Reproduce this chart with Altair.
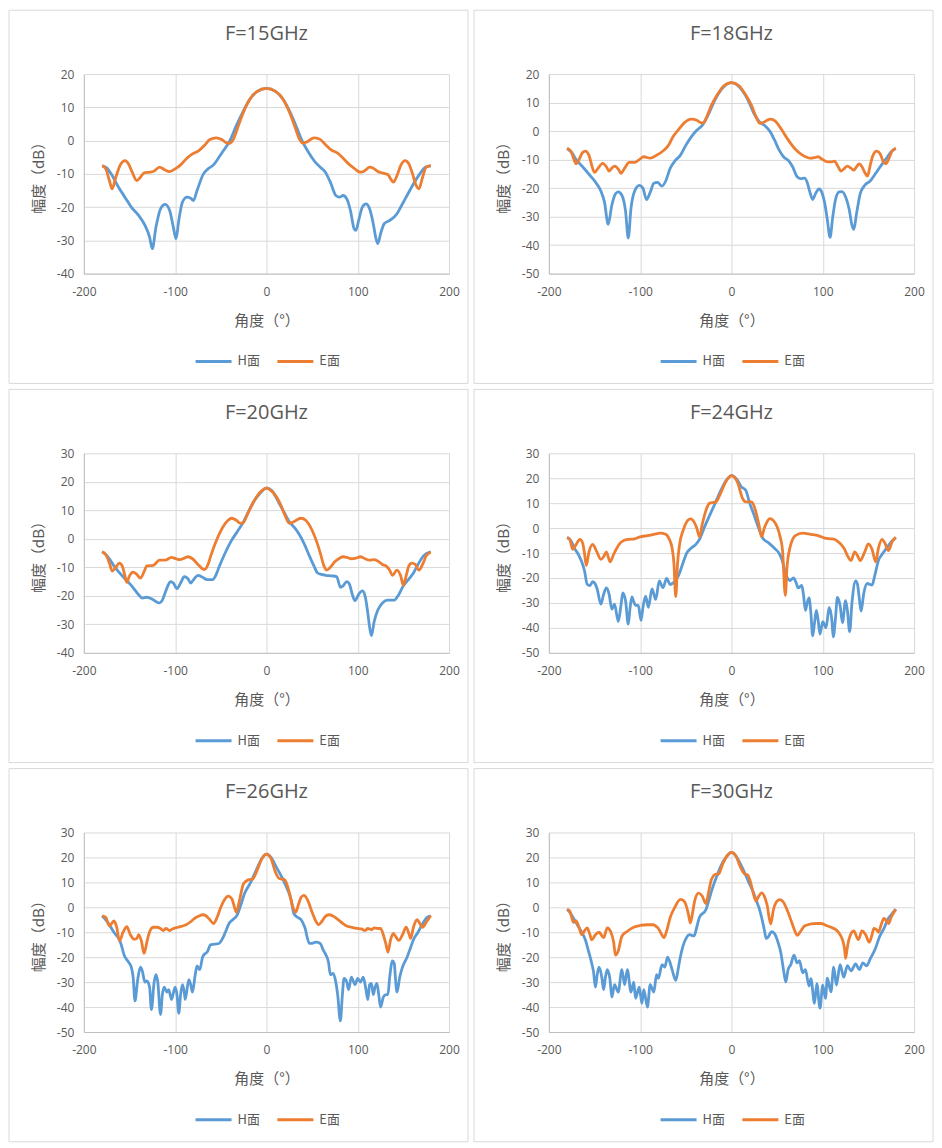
import altair as alt
import pandas as pd

BLUE = "#5b9bd5"
ORANGE = "#ed7d31"
GRID = "#d9d9d9"
AXIS_LINE = "#bfbfbf"
TEXT = "#595959"
FONT = "Noto Sans CJK SC"
LATIN = "Open Sans"

SERIES = ["H面", "E面"]
X_TICKS = [-200, -100, 0, 100, 200]

H15 = [(-180, -7.6), (-175, -8.2), (-169, -10.5), (-162, -14), (-155, -17), (-148, -20), (-140, -22.5),
       (-133, -25.5), (-128, -29), (-125, -32.5), (-121, -26), (-116, -20.5), (-111, -19.2), (-106, -21),
       (-102, -26), (-99, -29.5), (-96, -24), (-92, -18.5), (-87, -17), (-83, -17.3), (-80, -18), (-76, -15),
       (-69, -10), (-64, -8.5), (-58, -7.3), (-52, -5), (-47, -3), (-40, 0), (-33, 4.5), (-26, 8.5),
       (-18, 12.5), (-10, 14.8), (0, 15.7), (10, 14.8), (18, 12.5), (26, 8.5), (33, 4), (39, 0), (46, -3.5),
       (53, -6.3), (59, -8), (64, -9.3), (70, -12.5), (76, -16.5), (80, -17), (84, -16.5), (88, -17.5),
       (92, -21), (96, -26.5), (98, -27), (101, -24), (105, -20), (109, -19), (113, -20.5), (117, -25),
       (120, -29.5), (122, -31), (125, -28), (129, -25), (135, -24), (143, -22), (148, -19.5), (153, -17),
       (160, -13.5), (168, -10), (174, -8), (180, -7.6)]
E15 = [(-180, -7.5), (-176, -8.5), (-172, -12), (-169, -14.5), (-165, -11), (-160, -7.3), (-155, -6),
       (-151, -7), (-147, -9.5), (-142, -12), (-138, -11), (-134, -9.7), (-128, -9.5), (-124, -9.3),
       (-117, -8), (-112, -8.7), (-106, -9.3), (-100, -8.5), (-94, -7.3), (-88, -5.5), (-81, -4), (-74, -3),
       (-68, -1.5), (-62, 0.3), (-55, 0.8), (-49, 0.3), (-44, -0.6), (-40, -0.8), (-36, 0.5), (-32, 3.5),
       (-26, 8), (-18, 12.5), (-10, 14.8), (0, 15.7), (10, 14.8), (18, 12.5), (26, 8), (32, 3.5), (36, 0.5),
       (40, -0.8), (45, -0.3), (52, 0.8), (58, 0.5), (64, -1), (71, -2.8), (78, -3.8), (84, -5.3), (90, -7),
       (96, -8.3), (100, -9.2), (104, -9.5), (108, -9), (113, -8), (117, -8.3), (122, -9.3), (128, -9.8),
       (133, -10.2), (136, -11.5), (139, -12.5), (143, -10.5), (147, -7.5), (152, -6), (156, -7), (160, -10),
       (164, -13.5), (167, -14.5), (171, -11), (175, -8), (180, -7.5)]

H18 = [(-180, -6.1), (-175, -7.5), (-170, -10), (-163, -12.5), (-155, -15.5), (-148, -18.3), (-143, -21),
       (-139, -25), (-135, -32.7), (-131, -26), (-127, -22), (-124, -21.3), (-120, -22.5), (-116, -28),
       (-113, -37.5), (-110, -27), (-106, -21), (-101, -19), (-97, -20), (-93, -24), (-89, -21.5),
       (-85, -18.3), (-81, -18), (-76, -19.3), (-72, -17.5), (-67, -13), (-62, -10.5), (-56, -8.5), (-50, -5),
       (-44, -2), (-38, 0.3), (-32, 2), (-25, 6), (-18, 11), (-10, 15), (0, 17), (10, 15), (18, 11), (25, 6),
       (30, 3.5), (37, 1.8), (42, 0), (47, -3), (52, -6.5), (57, -9), (63, -10.5), (67, -12.5), (72, -16),
       (76, -16.7), (80, -16.5), (83, -18), (86, -21.5), (89, -24), (92, -22), (96, -20.3), (99, -21.5),
       (102, -25), (105, -31), (108, -37.3), (111, -30), (114, -24), (118, -21.3), (121, -21.2), (125, -23),
       (129, -27.5), (132, -33), (134, -34.5), (137, -29), (141, -22), (146, -19), (152, -17.5),
       (158, -14.8), (164, -12), (170, -9.5), (175, -7.2), (180, -6.1)]
E18 = [(-180, -6), (-176, -7), (-173, -9.5), (-170, -11.5), (-167, -10), (-163, -7.5), (-160, -7),
       (-156, -8.5), (-153, -12), (-150, -14.5), (-146, -13), (-141, -11.3), (-137, -12.5), (-134, -14),
       (-131, -13), (-128, -12.3), (-124, -13.3), (-121, -14.8), (-117, -13), (-112, -11), (-106, -11),
       (-101, -10), (-96, -9), (-89, -9.5), (-82, -8.5), (-75, -7), (-69, -5), (-64, -2), (-58, 0.5),
       (-52, 2.8), (-44, 4.2), (-38, 3.8), (-34, 3), (-31, 2.8), (-27, 5), (-22, 9), (-15, 13), (-8, 16),
       (0, 17), (8, 16), (15, 13), (22, 9), (27, 5), (31, 2.7), (35, 3), (39, 3.8), (43, 4.2), (48, 3.5),
       (55, 0.5), (62, -3), (69, -6), (75, -7.8), (80, -8.8), (86, -9.5), (91, -9.3), (95, -9), (99, -9.8),
       (104, -10.7), (109, -10.8), (113, -10.5), (116, -12), (120, -14), (124, -13), (127, -12.3),
       (131, -13), (134, -13.7), (137, -12.5), (140, -11.5), (143, -12.5), (146, -14.5), (149, -15.8),
       (152, -12), (155, -8.5), (159, -7), (163, -8), (166, -10.5), (169, -11.5), (172, -10), (176, -7),
       (180, -6)]

H20 = [(-180, -4.6), (-176, -5.5), (-172, -7), (-167, -9.5), (-162, -11.5), (-155, -14), (-149, -16),
       (-144, -18), (-139, -20), (-136, -20.8), (-131, -20.5), (-126, -21), (-121, -22), (-117, -22.5),
       (-114, -21.5), (-111, -19), (-108, -16.5), (-105, -15), (-102, -15.5), (-98, -17.5), (-94, -15.5),
       (-90, -13.3), (-86, -14), (-83, -15.5), (-79, -14), (-75, -12.8), (-70, -13.5), (-65, -14.3),
       (-59, -14.3), (-55, -12.5), (-52, -10), (-46, -5.5), (-39, -1), (-32, 2.5), (-25, 6), (-19, 10),
       (-14, 13), (-7, 16), (0, 17.8), (7, 16.5), (13, 13), (19, 9.5), (25, 6), (31, 3.8), (36, 1.5),
       (41, -1.5), (47, -6), (52, -9.5), (56, -12), (60, -12.5), (65, -12.8), (72, -13), (77, -13.3),
       (81, -17), (84, -16.5), (88, -15), (91, -16), (94, -19.5), (97, -21.7), (101, -19.5), (105, -18.3),
       (108, -20), (111, -26), (113, -31), (115, -34), (118, -29), (122, -25), (127, -22.5), (133, -21.5),
       (140, -21.5), (145, -19.5), (150, -16.5), (155, -14.5), (161, -12), (166, -9), (172, -6),
       (180, -4.6)]
E20 = [(-180, -4.6), (-176, -5.5), (-172, -8.5), (-169, -11.3), (-165, -10), (-161, -8.5), (-158, -9.5),
       (-155, -13), (-153, -15.3), (-150, -13), (-146, -11.7), (-142, -12.5), (-138, -13.8), (-134, -11.5),
       (-131, -9.5), (-124, -9.3), (-117, -7.5), (-111, -7.5), (-104, -6.5), (-99, -7), (-95, -7.3),
       (-90, -6.8), (-86, -6.3), (-81, -7), (-75, -9), (-68, -10.8), (-64, -9), (-61, -6), (-54, 0),
       (-47, 4.5), (-42, 6.5), (-38, 7.2), (-33, 6.5), (-29, 5.5), (-26, 5.5), (-21, 8.5), (-14, 13),
       (-7, 16.3), (0, 17.8), (7, 16.3), (14, 13), (20, 8.5), (25, 5.5), (30, 6), (34, 6.8), (38, 7.2),
       (43, 6.5), (50, 3), (55, -1), (59, -5), (63, -9.5), (66, -11), (70, -10), (75, -8), (80, -6.8),
       (84, -6.3), (88, -6.5), (93, -7), (98, -6.8), (103, -6.3), (108, -7), (113, -7.5), (118, -7.3),
       (123, -8), (127, -9), (131, -9.5), (135, -11), (138, -12.8), (143, -11), (147, -13), (150, -16.3),
       (153, -13), (156, -9.5), (159, -8.5), (163, -9), (167, -11), (171, -9), (175, -6), (180, -4.6)]

H24 = [(-180, -3.8), (-176, -5), (-172, -8), (-167, -11), (-164, -13.5), (-161, -17), (-158, -22.5),
       (-155, -23), (-152, -21.5), (-149, -22.5), (-147, -24.5), (-143, -30.5), (-140, -26.5), (-137, -24),
       (-134, -26.5), (-131, -32.5), (-128, -30.5), (-124, -37.5), (-121, -31), (-119, -26), (-116, -29),
       (-113, -38.5), (-111, -32), (-109, -27.6), (-107, -29.5), (-105, -31), (-102, -31), (-99, -37),
       (-97, -32), (-94, -27.3), (-91, -31.8), (-87, -24.4), (-83, -28.6), (-79, -21.2), (-75, -23.9),
       (-71, -20.2), (-67, -22.6), (-64, -22), (-58, -19.1), (-54, -15), (-49, -10), (-44, -8), (-39, -6.5),
       (-35, -4.5), (-30, 0), (-24, 5), (-19, 9), (-13, 14), (-6, 19), (0, 21), (6, 19.5), (11, 16.5),
       (15.5, 15.3), (20, 10), (25, 5), (30, -0.2), (35, -4.4), (41, -6), (48, -8.4), (52, -10), (55, -12.3),
       (60, -18.9), (64, -21), (68, -20), (71, -22), (73, -24), (77, -23), (79, -27), (81, -33), (83, -30),
       (85, -28), (87, -34), (89, -43.2), (91, -38), (93, -33), (95, -37), (97, -42.5), (100, -37.5),
       (103.6, -39.9), (107, -31.8), (110, -37), (111.5, -43.6), (114, -36), (116, -27.8), (119, -31),
       (121.6, -37.9), (125, -29.1), (127, -33), (129.5, -41.5), (132, -30), (136, -21.2), (138, -22.5),
       (140, -28), (142, -33.3), (145, -26), (148.6, -22.2), (154, -22.8), (157, -19), (161, -13),
       (165, -10.5), (170, -8), (175, -5.5), (180, -3.8)]
E24 = [(-180, -3.8), (-177, -4.5), (-174, -8.5), (-170, -6.5), (-166, -4.5), (-163, -6), (-161, -10),
       (-159, -15), (-156, -9.5), (-152, -6.5), (-148, -9), (-143, -12.5), (-140, -11.5), (-137, -9.5),
       (-133, -13.5), (-129, -10.5), (-123, -6.5), (-118, -5), (-112, -4.5), (-106, -4.3), (-100, -3.5),
       (-92, -3), (-85, -2.5), (-78, -2), (-72, -2.5), (-68, -4.5), (-65, -8), (-63, -14), (-61, -27.5),
       (-59, -14), (-57, -7), (-53, -1), (-49, 2.5), (-45, 3.7), (-41, 2.5), (-38, 0), (-35, -3.5),
       (-32, 1.5), (-28, 7), (-24, 10), (-17, 10.5), (-13, 13), (-7, 18), (0, 21), (7, 18), (12, 12),
       (16, 10.5), (22, 10.5), (26, 7.5), (30, 1.5), (33, -3.5), (36, 0), (39, 2.5), (42, 3.8), (46, 3),
       (50, 0.5), (53, -3), (56, -9), (59, -27), (61, -15), (64, -8), (67, -4.5), (70, -3), (78, -2),
       (87, -2.5), (95, -3), (102, -4), (108, -4.3), (113, -4.5), (117, -5.5), (120, -6.5), (124, -8.5),
       (127, -11), (131, -13), (135, -9.5), (138, -11), (141, -13), (146, -9.5), (150, -6.3), (154, -8.5),
       (158, -13.5), (161, -8), (165, -4.5), (168, -6), (172, -9), (176, -5.5), (180, -3.7)]

H26 = [(-180, -3.4), (-176, -5), (-172, -7), (-168, -9.5), (-165, -11), (-161, -13), (-159, -15),
       (-156, -19), (-151, -22), (-148, -24), (-146, -28), (-144, -37.5), (-141, -29), (-138, -24),
       (-136, -25.5), (-133, -30), (-131, -29.5), (-128, -32), (-126, -41), (-123, -30), (-121, -27),
       (-119, -30), (-116, -43), (-114, -35), (-112, -32), (-109, -34), (-107, -33), (-104, -37), (-100, -32),
       (-98, -35), (-96, -42.5), (-94, -35), (-92, -31), (-90, -34), (-89, -37), (-85, -29), (-83, -31),
       (-81, -34), (-78, -27), (-76, -23.5), (-73, -25), (-70, -20), (-67, -18.5), (-65, -18), (-61, -15),
       (-57, -14.8), (-52, -14.5), (-48, -12.5), (-45, -10), (-41, -6.5), (-37, -5), (-32, -3), (-28, 1),
       (-24, 5.5), (-18, 9.5), (-11, 15), (-5, 19.5), (0, 21.3), (5, 20), (11, 16), (17, 12), (22, 8),
       (27, 3), (30, -2.5), (34, -4), (38, -5), (42, -8), (47, -14.5), (50, -14.5), (54, -14), (59, -14.5),
       (62, -17), (65, -19), (68, -22), (70, -27), (73, -26.5), (76, -30), (78, -35), (81, -45.5), (83, -36),
       (85, -28.5), (88, -30), (90, -33), (93, -28), (97, -31), (100, -28.5), (103, -30), (106, -28),
       (109, -33), (111, -37), (113, -31), (115, -30.5), (117, -35), (119, -32), (121, -30.5), (123, -35),
       (125, -40), (128, -36), (131, -35), (133, -35), (135, -28), (138, -21.5), (140, -22.5), (141, -27),
       (143, -34), (146, -28), (149, -24), (154, -20), (158, -16), (161, -13), (166, -10), (172, -6),
       (176, -4), (180, -3.4)]
E26 = [(-180, -3.4), (-176, -4), (-172, -7.5), (-167, -5.5), (-164, -8), (-161, -13.5), (-157, -10),
       (-153, -7.8), (-149, -11), (-145, -12.8), (-142, -12.5), (-140, -11), (-137, -13.5), (-134, -18.5),
       (-131, -14), (-129, -11), (-124, -8), (-120, -8), (-116, -8.5), (-113, -9.3), (-110, -8.5),
       (-106, -9.3), (-102, -8.5), (-97, -8), (-92, -7.5), (-88, -7), (-83, -5.8), (-79, -4.5), (-74, -3.5),
       (-70, -3), (-66, -3.5), (-62, -5), (-58, -6.5), (-54, -4), (-50, 0), (-46, 3), (-42, 4.5), (-38, 3.5),
       (-35, 0), (-33, -2), (-30, 2), (-25, 9.5), (-20, 11), (-15, 11.3), (-10, 15), (-5, 19.5), (0, 21.3),
       (5, 19.5), (10, 14), (14, 11.5), (20, 11), (25, 6), (29, 0), (32, -2), (35, 1), (38, 4), (41, 4.8),
       (45, 3), (50, -2), (54, -5.5), (57, -7), (61, -5.5), (65, -3.5), (69, -3), (75, -4), (82, -6),
       (88, -7.5), (93, -8), (99, -8.5), (104, -8.7), (108, -9.3), (111, -8.5), (115, -9), (118, -8.3),
       (122, -8.5), (125, -8.5), (128, -11), (131, -15), (133, -18), (136, -13), (139, -10.5), (142, -12),
       (145, -13.3), (149, -11), (153, -8), (156, -10.5), (158, -12.5), (161, -8), (165, -5), (168, -6.5),
       (171, -8), (175, -6), (180, -3.4)]

H30 = [(-180, -0.8), (-176, -2.5), (-172, -5), (-168, -7.5), (-164, -10), (-160, -13), (-157, -17),
       (-154, -21), (-151, -26), (-149, -32), (-147, -27), (-145, -24), (-142, -28), (-140, -33), (-138, -28),
       (-136, -25), (-133, -29), (-131, -36), (-128, -31), (-124, -34), (-120, -25), (-117, -31),
       (-114, -25), (-110, -34), (-107, -30), (-105, -36.5), (-101, -32), (-98, -38.5), (-96, -33),
       (-92, -40), (-89, -31), (-85, -34), (-82, -27), (-80, -28.5), (-76, -23), (-73, -24), (-70, -20),
       (-65, -25), (-61, -29.3), (-58, -24), (-56, -20), (-53, -15.5), (-49, -12), (-46, -11), (-41, -11.5),
       (-38, -8), (-35, -4), (-28, -1), (-25, 2.5), (-20.5, 8), (-16, 12.5), (-11.5, 16.6), (-5, 20.5),
       (0, 22), (5, 20.5), (9, 18), (13, 15), (19, 10), (24, 6), (28, 2), (30, 0), (33, -4), (36, -9),
       (38, -12.5), (40, -12), (44, -9.8), (47, -10.5), (51, -14), (54, -18), (57, -25), (59.5, -30),
       (62, -25), (65, -23), (68.5, -19.2), (72, -22.3), (74.5, -21.4), (78, -26.3), (81, -25), (85, -31.6),
       (87, -28.6), (91, -38.5), (93.5, -30.6), (97, -40.4), (100, -31.2), (103, -36.5), (105, -28.4),
       (109, -33.9), (112, -24), (115, -31.2), (119, -23), (123, -28), (127, -23.4), (131, -25.5),
       (136, -22.7), (140, -25), (144, -22.3), (148, -23.5), (152, -20.7), (158, -16.2), (162, -12),
       (167, -8.5), (171, -5), (175, -3), (180, -0.8)]
E30 = [(-180, -0.8), (-177, -1.5), (-175, -4), (-173, -6), (-170, -5.5), (-167, -8), (-164, -11),
       (-161, -9.5), (-158, -8.3), (-155, -11), (-153, -13.1), (-149, -11), (-145, -10), (-140, -12.2),
       (-136, -8.3), (-132, -10), (-129, -14), (-127, -19.2), (-124, -17.5), (-120, -11.6), (-114, -9.6),
       (-107, -8), (-100, -7.3), (-92, -7), (-86, -7), (-83, -7.5), (-80, -8.5), (-77, -10.5), (-74, -12.2),
       (-71, -9.5), (-67, -4), (-62, 0), (-56, 3.2), (-52, 2.5), (-49, 0), (-47, -3), (-45, -6.3),
       (-42, -1), (-40, 3), (-36, 5.7), (-32, 4.5), (-28, 1.5), (-25, 6), (-22, 11), (-17, 13.3),
       (-14, 13.3), (-10, 17), (-5, 20.5), (0, 22), (5, 20.5), (10, 16), (14, 13.5), (18, 12.8), (21, 10),
       (24, 5.5), (27, 2.5), (30, 4.5), (33, 5.8), (36, 4.5), (39, 1), (43, -6.7), (46, -1), (49, 2),
       (53, 3.1), (57, 2), (62, -2), (66, -6), (70, -10), (72, -11.3), (76, -9.5), (80, -7.5), (87, -6.7),
       (93, -6.5), (98, -6.5), (104, -7.3), (109, -8), (116, -9.5), (119, -11), (122, -13.5), (124, -17),
       (125, -20.5), (127, -16), (129, -12.5), (134, -9.5), (139, -13), (143, -9.5), (147, -11), (151, -14),
       (154, -11), (156, -8.5), (159, -9), (161, -10), (164, -7), (167, -4.5), (170, -5.5), (172, -6.5),
       (175, -4), (180, -0.8)]

PANELS = [
    ("F=15GHz", H15, E15, (-40, 20)),
    ("F=18GHz", H18, E18, (-50, 20)),
    ("F=20GHz", H20, E20, (-40, 30)),
    ("F=24GHz", H24, E24, (-50, 30)),
    ("F=26GHz", H26, E26, (-50, 30)),
    ("F=30GHz", H30, E30, (-50, 30)),
]

W, H = 366, 200          # área de trazado
LEFT, TOP = 75, 64       # margen del marco de cada panel
PANEL_W, PANEL_H = 460, 374
PLAIN = "'' + datum.value"   # guion ASCII en los negativos, como Excel


def curve_frame(h_pts, e_pts):
    rows = [{"angle": a, "db": v, "plane": "H面"} for a, v in h_pts]
    rows += [{"angle": a, "db": v, "plane": "E面"} for a, v in e_pts]
    return pd.DataFrame(rows)


def panel(title, h_pts, e_pts, y_dom):
    df = curve_frame(h_pts, e_pts)
    y_ticks = list(range(y_dom[0], y_dom[1] + 1, 10))
    x = alt.X("angle:Q", title="角度（°）",
              scale=alt.Scale(domain=[-200, 200], nice=False),
              axis=alt.Axis(values=X_TICKS, labelExpr=PLAIN, labelFlush=False,
                            labelPadding=13, titlePadding=16))
    y = alt.Y("db:Q", title="幅度（dB）",
              scale=alt.Scale(domain=list(y_dom), nice=False),
              axis=alt.Axis(values=y_ticks, labelExpr=PLAIN, labelPadding=10, titlePadding=10))
    color = alt.Color(
        "plane:N", scale=alt.Scale(domain=SERIES, range=[BLUE, ORANGE]),
        legend=alt.Legend(orient="none", legendX=110, legendY=268, direction="horizontal",
                          title=None, symbolType="stroke", symbolSize=1300,
                          symbolStrokeWidth=3, labelFontSize=13, labelColor=TEXT,
                          labelFont=FONT, labelOffset=4, columnPadding=10),
    )
    base = alt.Chart(df)
    h_line = base.transform_filter(alt.datum.plane == "H面").mark_line(
        interpolate="monotone", strokeWidth=2.8).encode(x=x, y=y, color=color)
    e_line = base.transform_filter(alt.datum.plane == "E面").mark_line(
        interpolate="monotone", strokeWidth=2.8).encode(x=x, y=y, color=color)
    # marco gris del panel, como en Excel
    frame = alt.Chart(pd.DataFrame({"k": [0]})).mark_rect(
        fillOpacity=0, stroke=GRID, strokeWidth=1).encode(
        x=alt.value(-LEFT), x2=alt.value(PANEL_W - LEFT),
        y=alt.value(-TOP), y2=alt.value(PANEL_H - TOP))
    return alt.layer(frame, h_line, e_line).properties(
        width=W, height=H,
        title=alt.TitleParams(title, fontSize=20, font=LATIN, color=TEXT, fontWeight="normal",
                              anchor="middle", baseline="alphabetic", offset=-50),
    )


chart = alt.concat(*[panel(*p) for p in PANELS], columns=2, spacing=4).resolve_legend(
    color="independent"
).properties(padding=0).configure_view(stroke=None).configure_axis(
    gridColor=GRID, domainColor=AXIS_LINE, ticks=False, tickSize=0,
    labelFont=LATIN, labelFontSize=12, labelColor=TEXT,
    titleFont=FONT, titleFontSize=15, titleColor=TEXT, titleFontWeight="normal",
)

chart.save("out.html", embed_options={"renderer": "svg", "actions": False})
